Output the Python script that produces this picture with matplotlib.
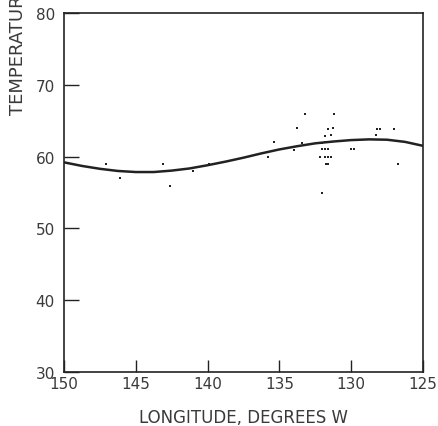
import matplotlib
matplotlib.use("Agg")
import matplotlib.pyplot as plt

# Observations (longitude °W, temperature °F)
obs_lon = [147.1, 146.1, 143.1, 142.6, 141.0, 139.9,
           135.8, 135.4, 134.0, 133.8, 133.4, 133.2,
           132.2, 132.0, 131.8, 131.6, 131.4,
           132.0, 131.8, 131.6,
           132.2, 131.8, 131.6, 131.4,
           131.75, 131.6, 132.0,
           131.8, 131.4, 131.6, 131.3, 131.2,
           130.0, 129.8, 128.3, 128.2, 128.0, 127.0, 126.75, 126.2]
obs_temp = [58.9, 57.0, 58.9, 55.9, 57.95, 59.0,
            60.0, 62.0, 60.9, 64.0, 61.9, 66.0,
            61.9, 61.95, 62.0, 62.05, 62.1,
            61.1, 61.1, 61.1,
            60.0, 60.0, 60.0, 60.0,
            59.0, 59.0, 54.9,
            62.9, 63.0, 63.9, 64.0, 65.9,
            61.0, 61.0, 63.0, 63.9, 63.9, 63.9, 59.0, 62.0]

# Fitted curve
fit_lon = [150.0, 148.75, 147.5, 146.25, 145.0, 143.75, 142.5, 141.25, 140.0,
           138.75, 137.5, 136.25, 135.0, 133.75, 132.5, 131.25, 130.0,
           128.75, 127.5, 126.25, 125.0]
fit_temp = [59.2, 58.7, 58.3, 58.0, 57.85, 57.85, 58.05, 58.35, 58.8,
            59.3, 59.85, 60.45, 61.0, 61.45, 61.85, 62.1, 62.3,
            62.4, 62.35, 62.05, 61.5]

x_ticks = [150, 145, 140, 135, 130, 125]
y_ticks = [30, 40, 50, 60, 70, 80]

W, H = 439, 427
fig = plt.figure(figsize=(W / 100, H / 100), dpi=100)
ax = fig.add_axes([64 / W, (H - 373) / H, (423 - 64) / W, (373 - 14) / H])

ink = "#222222"
txt = "#3a3a3a"
ax.plot(fit_lon, fit_temp, color=ink, lw=1.8, solid_capstyle="round")
ax.scatter(obs_lon, obs_temp, s=3.5, color=ink, marker="s", linewidths=0)

ax.set_xlim(150, 125)
ax.set_ylim(30, 80)
ax.set_xticks(x_ticks)
ax.set_yticks(y_ticks)
ax.set_xticklabels([str(t) for t in x_ticks])
ax.set_yticklabels([str(t) for t in y_ticks])

for lab in ax.get_xticklabels() + ax.get_yticklabels():
    lab.set_fontfamily("DejaVu Sans")
    lab.set_fontsize(11)
    lab.set_color(txt)
ax.tick_params(axis="both", direction="in", width=1.0, color=ink,
               top=False, right=False)
ax.tick_params(axis="x", pad=3, length=9)
ax.tick_params(axis="y", pad=6.5, length=10.5)
for sp in ax.spines.values():
    sp.set_color(ink)
    sp.set_linewidth(1.2)

ax.set_xlabel("LONGITUDE, DEGREES W", fontsize=12, color=txt, labelpad=12)
fig.text(18 / W, 1 - 115 / H, "TEMPERATURE, °F", rotation=90, fontsize=13,
         color=txt, ha="left", va="center", rotation_mode="anchor")

fig.savefig("out.png", dpi=100)
